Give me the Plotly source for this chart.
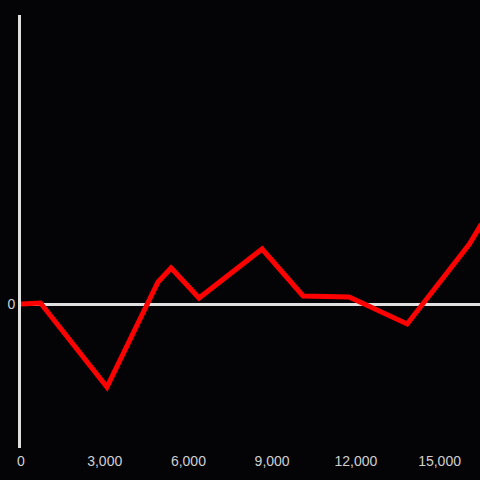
import plotly.graph_objects as go

x_values = [0, 700, 3080, 4910, 5380, 6380, 8640, 10110, 11760, 13840, 16070, 16500]
y_values = [0, 1, -83, 22, 36, 6, 55, 8, 7, -20, 60, 80]
x_tick_vals = [0, 3000, 6000, 9000, 12000, 15000]
x_tick_text = ["0", "3,000", "6,000", "9,000", "12,000", "15,000"]

fig = go.Figure()
fig.add_trace(go.Scatter(x=x_values, y=y_values, mode="lines",
                         line=dict(color="#ff0000", width=5), hoverinfo="skip"))

fig.update_layout(
    width=480, height=480,
    margin=dict(l=21, r=0, t=15, b=32),
    paper_bgcolor="#040306", plot_bgcolor="#040306",
    showlegend=False,
    font=dict(family="Liberation Sans, Arial, sans-serif", size=14, color="#d0d0d0"),
)
fig.update_xaxes(range=[0, 16450], tickvals=x_tick_vals, ticktext=x_tick_text,
                 showgrid=False, zeroline=False, showline=False, ticks="",
                 ticklabelstandoff=3)
fig.update_yaxes(range=[-144, 289], tickvals=[0], ticktext=["0"],
                 showgrid=False, zeroline=True, zerolinecolor="#e0e0e0", zerolinewidth=3,
                 showline=True, linecolor="#e0e0e0", linewidth=3, ticks="")

fig.write_html("out.html", config={"displayModeBar": False},
               post_script="document.body.style.margin='0';document.body.style.background='#040306';")
